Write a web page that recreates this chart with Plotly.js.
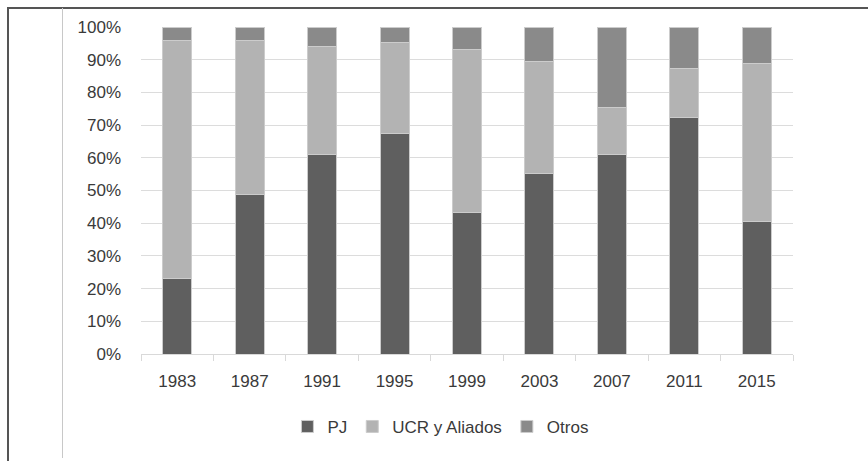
<!DOCTYPE html>
<html>
<head>
<meta charset="utf-8">
<script src="https://cdn.plot.ly/plotly-3.0.1.min.js"></script>
<style>
  html, body { margin: 0; padding: 0; background: #ffffff; }
  #wrap { position: relative; width: 868px; height: 461px; overflow: hidden; }
  #frame { position: absolute; left: 7px; top: 7px; width: 861px; height: 454px;
           border-left: 2px solid #555555; border-top: 2px solid #555555; box-sizing: border-box; }
  #inner { position: absolute; left: 62px; top: 8px; width: 1px; height: 450px; background: #c8c8c8; }
  #chart { position: absolute; left: 0; top: 0; width: 868px; height: 461px; }
</style>
</head>
<body>
<div id="wrap">
  <div id="chart"></div>
  <div id="frame"></div>
  <div id="inner"></div>
</div>
<script>
const years = ["1983", "1987", "1991", "1995", "1999", "2003", "2007", "2011", "2015"];
const pj    = [23.1, 48.9, 61.1, 67.5, 43.2, 55.3, 61.1, 72.2, 40.5];
const ucr   = [72.7, 46.9, 32.9, 27.7, 50.0, 34.2, 14.2, 15.2, 48.4];
const otros = [4.2, 4.2, 6.0, 4.8, 6.8, 10.5, 24.7, 12.6, 11.1];
const seriesNames = ["PJ", "UCR y Aliados", "Otros"];
const yTickVals = [0, 10, 20, 30, 40, 50, 60, 70, 80, 90, 100];
const yTickText = ["0%", "10%", "20%", "30%", "40%", "50%", "60%", "70%", "80%", "90%", "100%"];

const colors = ["#5f5f5f", "#b3b3b3", "#8a8a8a"];
const data = [pj, ucr, otros].map((vals, i) => ({
  type: "bar",
  x: years,
  y: vals,
  name: seriesNames[i],
  marker: { color: colors[i], line: { color: "#cccccc", width: 1 } },
  width: 0.4,
  hoverinfo: "skip"
}));

const font = { family: "Liberation Sans, Arial, sans-serif", size: 17, color: "#3a3a3a" };

const layout = {
  width: 868, height: 461,
  margin: { l: 141, r: 75, t: 27, b: 107 },
  paper_bgcolor: "rgba(0,0,0,0)",
  plot_bgcolor: "#ffffff",
  barmode: "stack",
  font: font,
  showlegend: true,
  legend: {
    orientation: "h", x: 0.46, xanchor: "center", y: -0.223, yanchor: "middle",
    font: font, traceorder: "normal", itemwidth: 30
  },
  xaxis: {
    type: "category",
    showline: true, linecolor: "#d9d9d9", linewidth: 1,
    ticks: "outside", tickson: "boundaries", ticklen: 6, tickcolor: "#d9d9d9",
    showgrid: false, tickfont: font, ticklabelstandoff: 12
  },
  yaxis: {
    range: [0, 100], tickvals: yTickVals, ticktext: yTickText,
    showgrid: true, gridcolor: "#dcdcdc", gridwidth: 1,
    zeroline: false, showline: false, ticks: "",
    tickfont: font, ticklabelstandoff: 19
  }
};

Plotly.newPlot("chart", data, layout, { displayModeBar: false, staticPlot: true });
</script>
</body>
</html>
